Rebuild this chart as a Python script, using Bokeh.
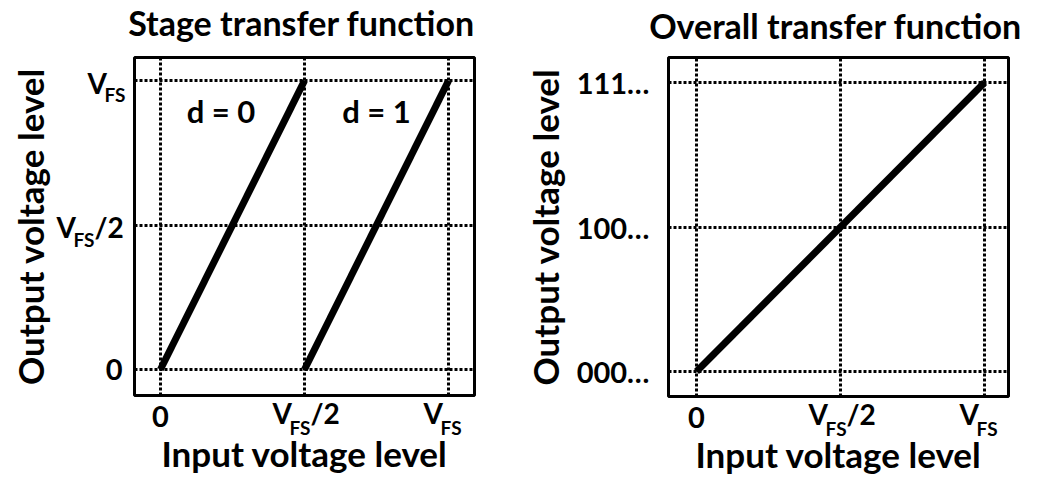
from bokeh.plotting import figure
from bokeh.models import Range1d, FixedTicker, ColumnDataSource
from bokeh.layouts import row
from bokeh.core.properties import value
from bokeh.embed import file_html
from bokeh.resources import INLINE

# ---------------- data ----------------
tick_values = [0.0, 0.5, 1.0]

stage_title = "Stage transfer function"
overall_title = "Overall transfer function"

stage_d0_x = [0.0, 0.5]
stage_d0_y = [0.0, 1.0]
stage_d1_x = [0.5, 1.0]
stage_d1_y = [0.0, 1.0]

overall_x = [0.0, 1.0]
overall_y = [0.0, 1.0]

stage_region_labels = ["d = 0", "d = 1"]
stage_region_x = [0.21, 0.75]
stage_region_y = [0.845, 0.845]

overall_y_tick_labels = ["000\u2026", "100\u2026", "111\u2026"]
zero_label = "0"

# V_FS style tick labels, built from pieces (main letter, subscript, suffix)
vfs_tick_values = [0.5, 1.0]
vfs_main = ["V", "V"]
vfs_sub = ["FS", "FS"]
vfs_suffix = ["/2", ""]

FONT = "Lato"
TICK_SIZE = "29px"
V_PX, SUB_PX, TITLE_PX, REGION_PX = 28, 19, 34, 31
LABEL_SIZE = "35px"


def base_shift(px):
    # the text glyph's alphabetic baseline lands ~0.45 em low; lift it back
    return -round(0.45 * px)


def base_fig(title, xr, yr, fw, fh, bl, br, bt, bb, title_dy):
    p = figure(x_range=Range1d(*xr), y_range=Range1d(*yr),
               frame_width=fw, frame_height=fh,
               min_border_left=bl, min_border_right=br,
               min_border_top=bt, min_border_bottom=bb,
               output_backend="svg", toolbar_location=None,
               background_fill_color="white", border_fill_color="white")
    p.outline_line_color = "black"
    p.outline_line_width = 3
    p.outline_line_alpha = 1.0
    for ax in (p.xaxis[0], p.yaxis[0]):
        ax.ticker = FixedTicker(ticks=tick_values)
        ax.axis_line_color = None
        ax.major_tick_line_color = None
        ax.minor_tick_line_color = None
        ax.major_tick_in = 0
        ax.major_tick_out = 0
        ax.major_label_text_font = FONT
        ax.major_label_text_font_style = "bold"
        ax.major_label_text_font_size = TICK_SIZE
        ax.major_label_text_color = "black"
        ax.axis_label_text_font = FONT
        ax.axis_label_text_font_style = "bold"
        ax.axis_label_text_font_size = LABEL_SIZE
        ax.axis_label_text_color = "black"
    p.xaxis.axis_label = "Input voltage level"
    p.yaxis.axis_label = "Output voltage level"
    p.xaxis.major_label_standoff = 10
    p.xaxis.axis_label_standoff = 2
    for g in (p.xgrid[0], p.ygrid[0]):
        g.ticker = FixedTicker(ticks=tick_values)
        g.grid_line_color = "black"
        g.grid_line_width = 3
        g.grid_line_dash = "3 2"
    # chart title, centred over the frame, drawn above it
    p.text(x=[(xr[0] + xr[1]) / 2], y=[yr[1]], text=[title], x_offset=-3,
           y_offset=title_dy + base_shift(TITLE_PX),
           text_font=value(FONT), text_font_style="bold", text_font_size=f"{TITLE_PX}px",
           text_align="center", text_baseline="alphabetic", text_color="black",
           level="overlay")
    return p


def vfs_labels(p, x_left, y_bottom, with_y):
    xs, ys, texts, sizes, dxs, dys = [], [], [], [], [], []

    def piece(x, y, t, px, dx, dy):
        if t:
            xs.append(x); ys.append(y); texts.append(t)
            sizes.append(f"{px}px"); dxs.append(dx); dys.append(dy + base_shift(px))

    # below the frame, centred on the x ticks
    for tv, m, sb, sf in zip(vfs_tick_values, vfs_main, vfs_sub, vfs_suffix):
        shift = -32 if sf else -25
        piece(tv, y_bottom, m, V_PX, shift, 30)
        piece(tv, y_bottom, sb, SUB_PX, shift + 17, 41)
        piece(tv, y_bottom, sf, V_PX, shift + 38, 30)
    # left of the frame, right-aligned on the y ticks
    if with_y:
        for tv, m, sb, sf in zip(vfs_tick_values, vfs_main, vfs_sub, vfs_suffix):
            start = -78 if sf else -47
            piece(x_left, tv, m, V_PX, start, 15)
            piece(x_left, tv, sb, SUB_PX, start + 17, 23)
            piece(x_left, tv, sf, V_PX, start + 38, 15)

    src = ColumnDataSource(dict(x=xs, y=ys, text=texts, size=sizes, dx=dxs, dy=dys))
    p.text(x="x", y="y", text="text", source=src, x_offset="dx", y_offset="dy",
           text_font=value(FONT), text_font_style="bold", text_font_size="size",
           text_align="left", text_baseline="alphabetic", text_color="black",
           level="overlay")


# ---------------- left: stage transfer function ----------------
p1 = base_fig(stage_title, (-0.090, 1.090), (-0.090, 1.080),
              340, 338, 134, 46, 57, 89, -20)
p1.xaxis.major_label_overrides = {0.0: zero_label, 0.5: "", 1.0: ""}
p1.yaxis.major_label_overrides = {0.0: zero_label, 0.5: "", 1.0: ""}
p1.yaxis.major_label_standoff = 12
p1.yaxis.axis_label_standoff = 52

p1.line(stage_d0_x, stage_d0_y, line_width=7, line_color="black")
p1.line(stage_d1_x, stage_d1_y, line_width=7, line_color="black")
p1.text(x=stage_region_x, y=stage_region_y, text=stage_region_labels,
        y_offset=base_shift(REGION_PX),
        text_font=value(FONT), text_font_style="bold", text_font_size=f"{REGION_PX}px",
        text_align="center", text_baseline="alphabetic", text_color="black")
vfs_labels(p1, -0.090, -0.090, True)

# ---------------- right: overall transfer function ----------------
p2 = base_fig(overall_title, (-0.0972, 1.083), (-0.0865, 1.0865),
              340, 339, 148, 31, 54, 91, -17)
p2.xaxis.major_label_overrides = {0.0: zero_label, 0.5: "", 1.0: ""}
p2.yaxis.major_label_overrides = {tick_values[i]: overall_y_tick_labels[i] for i in range(3)}
p2.yaxis.major_label_standoff = 19
p2.yaxis.axis_label_standoff = 8

p2.line(overall_x, overall_y, line_width=7, line_color="black")
vfs_labels(p2, -0.0972, -0.0865, False)

layout = row(p1, p2)
open("out.html", "w").write(file_html(layout, INLINE))
